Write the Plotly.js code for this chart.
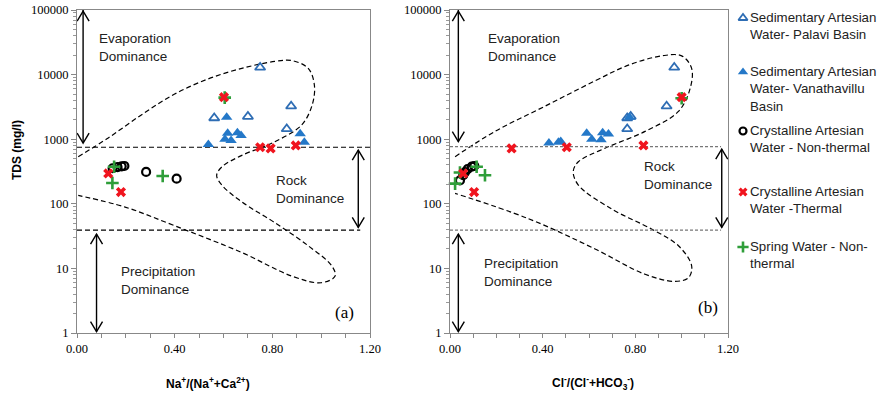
<!DOCTYPE html>
<html><head><meta charset="utf-8">
<script src="https://cdn.plot.ly/plotly-3.0.1.min.js"></script>
<style>html,body{margin:0;padding:0;background:#fff}#chart{width:883px;height:398px}</style>
</head><body><div id="chart"></div>
<script>
// ---------- data : plot (a) Na+/(Na+ + Ca2+) ----------
const palaviNa   = [0.562, 0.70, 0.75, 0.877, 0.859];
const palaviNaTDS = [2130, 2240, 12900, 3240, 1440];
const vanaNa     = [0.538, 0.613, 0.617, 0.606, 0.631, 0.657, 0.672, 0.914, 0.931];
const vanaNaTDS  = [830, 2190, 1240, 1000, 955, 1260, 1140, 1210, 900];
const crysNTNa   = [0.146, 0.166, 0.183, 0.194, 0.283, 0.408];
const crysNTNaTDS = [355, 370, 380, 385, 312, 245];
const springNa   = [0.605, 0.152, 0.145, 0.351];
const springNaTDS = [4400, 375, 210, 270];
const crysTNa    = [0.602, 0.75, 0.793, 0.896, 0.128, 0.18];
const crysTNaTDS = [4470, 750, 720, 800, 295, 152];

// ---------- data : plot (b) Cl-/(Cl- + HCO3-) ----------
const palaviCl   = [0.765, 0.78, 0.968, 0.935, 0.765];
const palaviClTDS = [2130, 2240, 12900, 3240, 1440];
const vanaCl     = [0.427, 0.468, 0.478, 0.59, 0.612, 0.659, 0.652, 0.684, 0.775];
const vanaClTDS  = [870, 900, 920, 1240, 1000, 1260, 980, 1200, 2190];
const crysNTCl   = [0.043, 0.057, 0.065, 0.076, 0.094, 0.105];
const crysNTClTDS = [230, 277, 310, 345, 375, 385];
const springCl   = [1.0, 0.022, 0.043, 0.115, 0.151];
const springClTDS = [4300, 205, 305, 375, 277];
const crysTCl    = [1.0, 0.266, 0.504, 0.835, 0.057, 0.104];
const crysTClTDS = [4470, 720, 750, 800, 295, 152];

// ---------- Gibbs envelope (boomerang) ----------
const envANa  = [0.005,0.128,0.265,0.40,0.538,0.675,0.81,0.88,0.947,0.972,0.964,0.92,0.81,0.675,0.593,0.572,0.593,0.675,0.81,0.947,1.043,1.057,1.0,0.88,0.675,0.40,0.197,0.005];
const envATDS = [537,1047,2400,5000,8600,12500,16000,16500,12500,7000,3470,1660,912,562,372,275,195,107,51,22.4,11,7.6,6.0,7.6,17.6,45.7,89,135];
const envBCl  = [0.022,0.194,0.41,0.626,0.77,0.914,1.0,1.043,1.036,0.986,0.842,0.669,0.554,0.532,0.554,0.698,0.87,0.986,1.043,1.03,0.97,0.842,0.626,0.338,0.022];
const envBTDS = [537,1320,3240,8000,14000,19500,19500,12500,6000,2690,1320,724,447,316,195,83,40.7,22.4,11,7.2,6.3,8.1,20,59,145];

// boundaries between dominance zones
const upperBoundA = 750, lowerBoundA = 39;
const upperBoundB = 770, lowerBoundB = 39;

// tick labels
const xTickVals = [0, 0.4, 0.8, 1.2];
const xTickText = ['0.00', '0.40', '0.80', '1.20'];
const yTickVals = [1, 10, 100, 1000, 10000, 100000];
const yTickText = ['1', '10', '100', '1000', '10000', '100000'];

const seriesNames = [
  'Sedimentary Artesian<br>Water- Palavi Basin',
  'Sedimentary Artesian<br>Water- Vanathavillu<br>Basin',
  'Crystalline Artesian<br>Water - Non-thermal',
  'Crystalline Artesian<br>Water -Thermal',
  'Spring Water - Non-<br>thermal'
];

// ---------- styles ----------
const BLUE_O = '#2e6db4', BLUE_F = '#2478c8', RED = '#f0141e', GREEN = '#2f9e3a';
const mk = {
  palavi: {symbol:'triangle-up-open', size:9, color:BLUE_O, line:{width:1.8, color:BLUE_O}},
  vana:   {symbol:'triangle-up', size:10, color:BLUE_F, line:{width:0}},
  crysNT: {symbol:'circle-open', size:8, color:'#000', line:{width:2.2, color:'#000'}},
  crysT:  {symbol:'x', size:9, color:RED, line:{width:0}},
  spring: {symbol:'cross-thin-open', size:9, color:GREEN, line:{width:2.6, color:GREEN}}
};

function pts(x, y, m, xa, ya) {
  return {type:'scatter', mode:'markers', x:x, y:y, marker:m, xaxis:xa, yaxis:ya, showlegend:false, hoverinfo:'skip', cliponaxis:false};
}
function line(x, y, xa, ya, st) {
  return {type:'scatter', mode:'lines', x:x, y:y, line:st, xaxis:xa, yaxis:ya, showlegend:false, hoverinfo:'skip'};
}
const dashBlack = {color:'#000', width:1.2, dash:'5px,3px'};
const dotGrey = {color:'#777', width:1.3, dash:'3px,2px'};
const envSt = {color:'#000', width:1.2, dash:'5px,3px', shape:'spline', smoothing:1.0};
const arrSt = {color:'#000', width:1.4};

const traces = [
  line(envANa, envATDS, 'x', 'y', envSt),
  line([0, 1.2], [upperBoundA, upperBoundA], 'x', 'y', dashBlack),
  line([0, 1.16], [lowerBoundA, lowerBoundA], 'x', 'y', dashBlack),
  line(envBCl, envBTDS, 'x2', 'y2', envSt),
  line([0, 1.17], [upperBoundB, upperBoundB], 'x2', 'y2', dotGrey),
  line([0, 1.17], [lowerBoundB, lowerBoundB], 'x2', 'y2', dotGrey),
  // dominance arrows (a)
  line([0.025, 0.025], [100000, 870], 'x', 'y', arrSt),
  line([0.08, 0.08], [34, 1.05], 'x', 'y', arrSt),
  line([1.152, 1.152], [680, 43], 'x', 'y', arrSt),
  // dominance arrows (b)
  line([0.036, 0.036], [100000, 920], 'x2', 'y2', arrSt),
  line([0.036, 0.036], [34, 1.05], 'x2', 'y2', arrSt),
  line([1.173, 1.173], [700, 43], 'x2', 'y2', arrSt),
  // points (a)
  pts(palaviNa, palaviNaTDS, mk.palavi, 'x', 'y'),
  pts(vanaNa, vanaNaTDS, mk.vana, 'x', 'y'),
  pts(crysNTNa, crysNTNaTDS, mk.crysNT, 'x', 'y'),
  pts(springNa, springNaTDS, mk.spring, 'x', 'y'),
  pts(crysTNa, crysTNaTDS, mk.crysT, 'x', 'y'),
  // points (b)
  pts(palaviCl, palaviClTDS, mk.palavi, 'x2', 'y2'),
  pts(vanaCl, vanaClTDS, mk.vana, 'x2', 'y2'),
  pts(crysNTCl, crysNTClTDS, mk.crysNT, 'x2', 'y2'),
  pts(springCl, springClTDS, mk.spring, 'x2', 'y2'),
  pts(crysTCl, crysTClTDS, mk.crysT, 'x2', 'y2'),
];

// manual legend (pixel-like axis x3/y3)
const legX = [743, 743, 743, 743, 743];
const legY = [18, 72, 131, 192, 247];
const legMarkers = [mk.palavi, mk.vana, mk.crysNT, mk.crysT, mk.spring];
legMarkers.forEach((m, i) => {
  traces.push(pts([legX[i]], [legY[i]], Object.assign({}, m, {size: m.size - 1}), 'x3', 'y3'));
});

// arrow heads via pixel-sized shapes
function head(xref, yref, x, y, up) {
  const s = up ? 'M-6,-10 L0,0 L6,-10' : 'M-6,10 L0,0 L6,10';
  return {type:'path', xref:xref, yref:yref, xsizemode:'pixel', ysizemode:'pixel', xanchor:x, yanchor:y, path:s, line:{color:'#000', width:1.4}};
}
const shapes = [
  head('x','y',0.025,96000,true), head('x','y',0.025,870,false),
  head('x','y',0.08,34,true), head('x','y',0.08,1.05,false),
  head('x','y',1.152,680,true), head('x','y',1.152,43,false),
  head('x2','y2',0.036,96000,true), head('x2','y2',0.036,920,false),
  head('x2','y2',0.036,34,true), head('x2','y2',0.036,1.05,false),
  head('x2','y2',1.173,700,true), head('x2','y2',1.173,43,false),
];

const txtFont = {family:'Liberation Sans, Arial, sans-serif', size:13.5, color:'#222'};
function note(xref, yref, x, y, text, extra) {
  return Object.assign({xref:xref, yref:yref, x:x, y:y, text:text, showarrow:false, xanchor:'left', yanchor:'middle', align:'left', font:txtFont}, extra || {});
}
const L = Math.log10;
const annotations = [
  note('x','y',0.082, L(26500), 'Evaporation<br>Dominance'),
  note('x','y',0.805, L(165), 'Rock<br>Dominance'),
  note('x','y',0.17, L(6.6), 'Precipitation<br>Dominance'),
  note('x','y',1.05, L(2.05), '(a)', {font:{family:'Liberation Serif, Times New Roman, serif', size:17, color:'#000'}}),
  note('x2','y2',0.155, L(26500), 'Evaporation<br>Dominance'),
  note('x2','y2',0.828, L(270), 'Rock<br>Dominance'),
  note('x2','y2',0.14, L(8.7), 'Precipitation<br>Dominance'),
  note('x2','y2',1.06, L(2.45), '(b)', {font:{family:'Liberation Serif, Times New Roman, serif', size:17, color:'#000'}}),
  // axis titles
  {xref:'paper', yref:'paper', x:208/883, y:(333-383)/323, text:'<b>Na<sup>+</sup>/(Na<sup>+</sup>+Ca<sup>2+</sup>)</b>', showarrow:false, xanchor:'center', yanchor:'middle', font:{family:'Liberation Sans, Arial, sans-serif', size:12, color:'#000'}},
  {xref:'paper', yref:'paper', x:593/883, y:(333-383)/323, text:'<b>Cl<sup>-</sup>/(Cl<sup>-</sup>+HCO<sub>3</sub><sup>-</sup>)</b>', showarrow:false, xanchor:'center', yanchor:'middle', font:{family:'Liberation Sans, Arial, sans-serif', size:12, color:'#000'}},
  {xref:'paper', yref:'paper', x:17/883, y:(333-150)/323, text:'<b>TDS (mg/l)</b>', textangle:-90, showarrow:false, xanchor:'center', yanchor:'middle', font:{family:'Liberation Sans, Arial, sans-serif', size:12, color:'#000'}},
];
legY.forEach((y, i) => {
  annotations.push({xref:'paper', yref:'paper', x:748/883, y:(333 - (y - 10))/323, text:seriesNames[i], showarrow:false, xanchor:'left', yanchor:'top', align:'left', font:{family:'Liberation Sans, Arial, sans-serif', size:13.3, color:'#222'}});
});

const minorLog = [];
for (let d = 1; d < 100000; d *= 10) for (let k = 2; k <= 9; k++) minorLog.push(k * d);

const tickFont = {family:'Liberation Serif, Times New Roman, serif', size:12.5, color:'#000'};
function xAx(dom, anchor) {
  return {domain:dom, anchor:anchor, range:[0, 1.2], showgrid:false, zeroline:false, showline:true, mirror:true, linecolor:'#888', linewidth:1,
    ticks:'outside', ticklen:4, tickcolor:'#888', tickvals:xTickVals, ticktext:xTickText, tickfont:tickFont,
    minor:{tickvals:[0.1,0.2,0.3,0.5,0.6,0.7,0.9,1.0,1.1], ticks:'outside', ticklen:4, tickcolor:'#888', showgrid:false}};
}
function yAx(anchor) {
  return {domain:[0, 1], anchor:anchor, type:'log', range:[0, 5], showgrid:false, zeroline:false, showline:true, mirror:true, linecolor:'#888', linewidth:1,
    ticks:'outside', ticklen:5, tickcolor:'#888', tickvals:yTickVals, ticktext:yTickText, tickfont:tickFont,
    minor:{tickvals:minorLog, ticks:'outside', ticklen:3, tickcolor:'#999', showgrid:false}};
}

const layout = {
  width:883, height:398, margin:{l:0, r:0, t:10, b:65},
  paper_bgcolor:'#fff', plot_bgcolor:'rgba(0,0,0,0)', showlegend:false,
  xaxis: xAx([77/883, 370/883], 'y'),
  yaxis: yAx('x'),
  xaxis2: xAx([450/883, 728/883], 'y2'),
  yaxis2: yAx('x2'),
  xaxis3: {domain:[0, 1], range:[0, 883], visible:false, anchor:'y3', fixedrange:true},
  yaxis3: {domain:[0, 1], range:[333, 10], visible:false, anchor:'x3', fixedrange:true},
  shapes: shapes,
  annotations: annotations
};

Plotly.newPlot('chart', traces, layout, {displayModeBar:false, staticPlot:true});
</script></body></html>
